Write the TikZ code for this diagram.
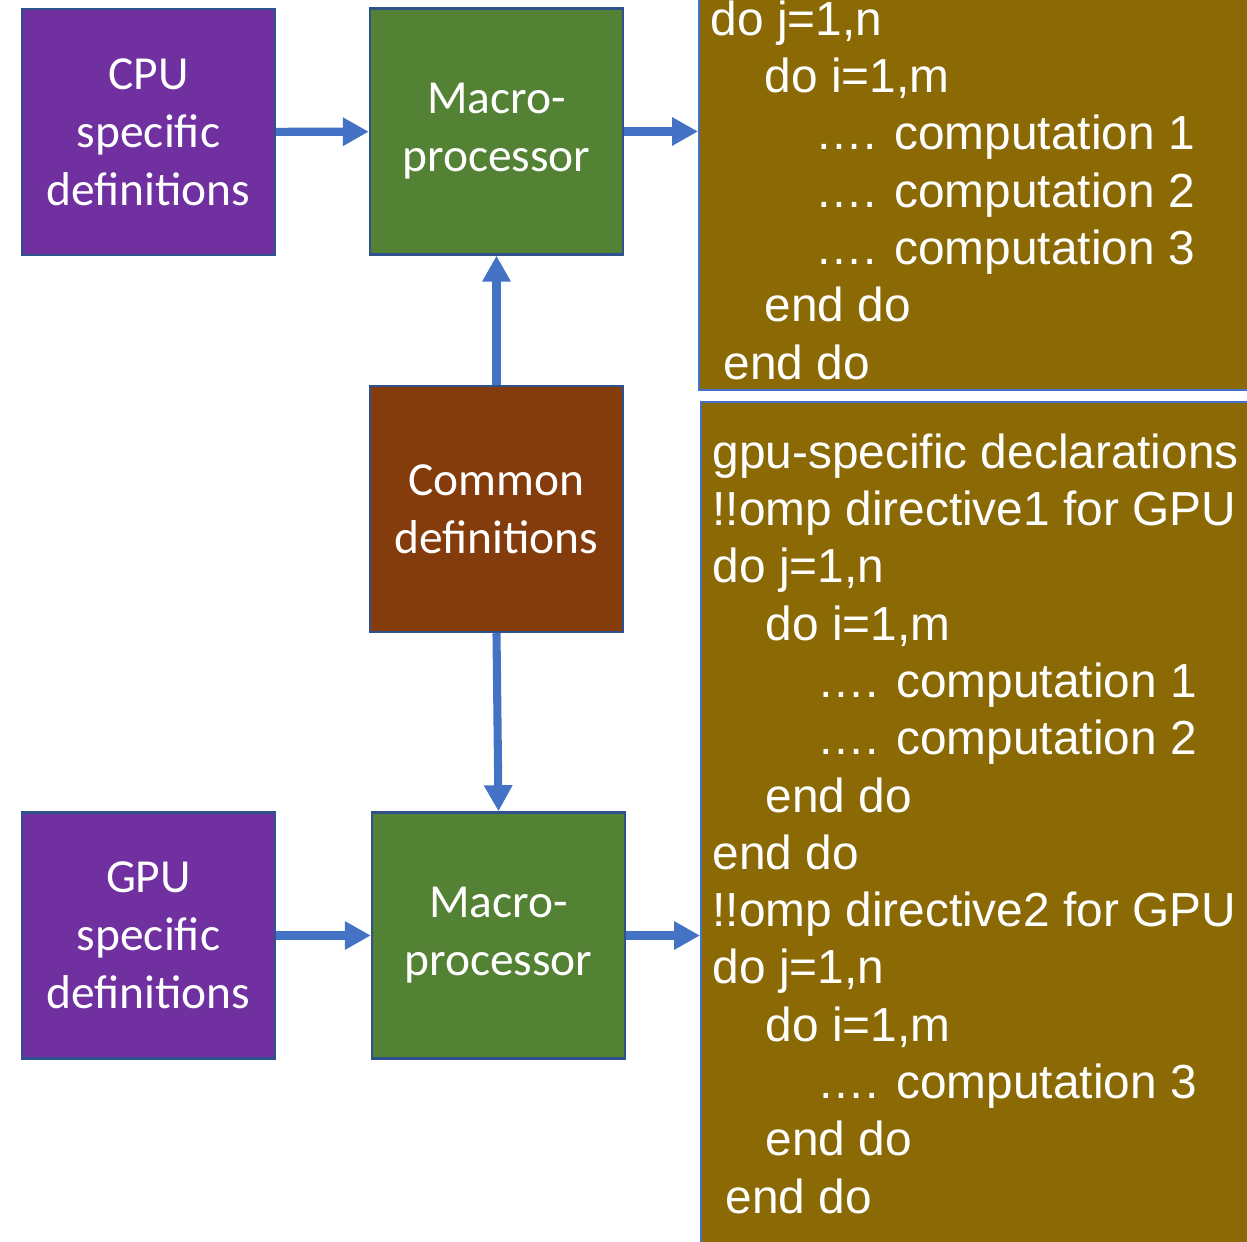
\documentclass[tikz,border=0pt]{standalone}
\usepackage{fontspec}
\usetikzlibrary{arrows.meta}

\newfontfamily\boxfont{Carlito}
\newfontfamily\codefont{Liberation Sans}

\definecolor{cpupurple}{HTML}{7030A0}
\definecolor{macrogreen}{HTML}{548235}
\definecolor{commonbrown}{HTML}{843C0C}
\definecolor{codegold}{HTML}{8B6905}
\definecolor{edgeblue}{HTML}{2F528F}
\definecolor{flowblue}{HTML}{4472C4}

\tikzset{
  defbox/.style={draw=edgeblue, line width=0.7pt, text=white, align=center,
    minimum width=2.53cm, minimum height=2.46cm, inner sep=0pt,
    font=\boxfont\fontsize{13.5}{16.5}\selectfont},
  codebox/.style={draw=flowblue, line width=0.5pt, fill=codegold,
    minimum width=5.7cm, anchor=north west},
  codetext/.style={text=white, align=left, inner sep=0pt, anchor=north west,
    font=\codefont\fontsize{13.6}{16.3}\selectfont},
  flow/.style={-{Triangle[width=0.27cm,length=0.26cm]}, draw=flowblue,
    line width=2.3pt},
}

\newcommand{\ind}[1]{\hspace*{#1cm}}

\begin{document}
\begin{tikzpicture}

\useasboundingbox (0,0) rectangle (12.47,-12.42);
\clip (0,0) rectangle (12.47,-12.42);

% ============================
% Definition and macro boxes
% ============================
\node[defbox, fill=cpupurple]   (cpu)      at (1.485,-1.32)  {CPU\\specific\\definitions};
\node[defbox, fill=macrogreen]  (macrotop) at (4.965,-1.315) {Macro-\\processor};
\node[defbox, fill=commonbrown] (common)   at (4.965,-5.09)  {Common\\definitions};
\node[defbox, fill=cpupurple]   (gpu)      at (1.485,-9.355) {GPU\\specific\\definitions};
\node[defbox, fill=macrogreen]  (macrobot) at (4.985,-9.355) {Macro-\\processor};

% ============================
% Generated code (CPU)
% ============================
\node[codebox, minimum height=4.09cm] (cpucode) at (6.98,0.2) {};
\node[codetext] (cputext) at (7.10,0.0)
{do j=1,n\\
 \ind{0.54}do i=1,m\\
 \ind{1.05}…. computation 1\\
 \ind{1.05}…. computation 2\\
 \ind{1.05}…. computation 3\\
 \ind{0.54}end do\\
 \ind{0.13}end do};

% ============================
% Generated code (GPU)
% ============================
\node[codebox, minimum height=8.6cm] (gpucode) at (7.00,-4.01) {};
\node[codetext] (gputext) at (7.12,-4.33)
{gpu-specific declarations\\
 !!omp directive1 for GPU\\
 do j=1,n\\
 \ind{0.53}do i=1,m\\
 \ind{1.05}…. computation 1\\
 \ind{1.05}…. computation 2\\
 \ind{0.53}end do\\
 end do\\
 !!omp directive2 for GPU\\
 do j=1,n\\
 \ind{0.53}do i=1,m\\
 \ind{1.05}…. computation 3\\
 \ind{0.53}end do\\
 \ind{0.13}end do};

% ============================
% Connectors
% ============================
\draw[flow] (cpu) -- (macrotop);
\draw[flow] (macrotop.east) -- (macrotop.east -| cpucode.west);
\draw[flow] (common) -- (macrotop);
\draw[flow] (common.south) -- (macrobot.north);
\draw[flow] (gpu) -- (macrobot);
\draw[flow] (macrobot.east) -- (macrobot.east -| gpucode.west);

\end{tikzpicture}
\end{document}
